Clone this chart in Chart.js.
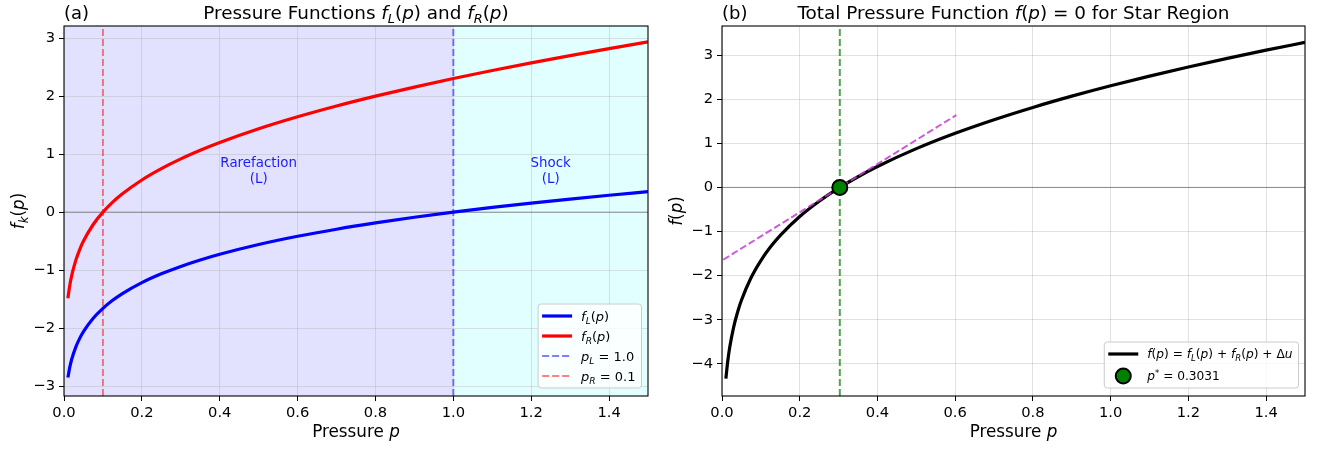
<!DOCTYPE html>
<html>
<head>
<meta charset="utf-8">
<script src="https://cdn.jsdelivr.net/npm/chart.js@4.4.0/dist/chart.umd.min.js"></script>
<style>
  html, body { margin: 0; padding: 0; background: #fff; }
  #wrap { position: relative; width: 1317px; height: 451px; }
  canvas { position: absolute; top: 0; }
</style>
</head>
<body>
<div id="wrap">
  <canvas id="left" width="660" height="451" style="left:0"></canvas>
  <canvas id="right" width="657" height="451" style="left:660px"></canvas>
</div>
<script>
// values
const pressure = [0.01, 0.015, 0.02, 0.03, 0.04, 0.05, 0.075, 0.1, 0.125, 0.15, 0.2, 0.25, 0.3, 0.35, 0.4, 0.5, 0.6, 0.7, 0.8, 0.9, 1.0, 1.1, 1.2, 1.3, 1.4, 1.5];
const fLeft  = [-2.852, -2.669, -2.533, -2.331, -2.181, -2.060, -1.830, -1.658, -1.520, -1.404, -1.215, -1.063, -0.935, -0.824, -0.726, -0.558, -0.416, -0.294, -0.186, -0.088, 0.0, 0.081, 0.156, 0.226, 0.292, 0.354];
const fRight = [-1.483, -1.256, -1.087, -0.836, -0.649, -0.499, -0.213, 0.0, 0.172, 0.316, 0.555, 0.750, 0.918, 1.066, 1.200, 1.437, 1.644, 1.830, 2.000, 2.157, 2.305, 2.443, 2.575, 2.700, 2.820, 2.935];
const fTotal = [-4.335, -3.925, -3.620, -3.167, -2.830, -2.559, -2.043, -1.658, -1.348, -1.088, -0.660, -0.313, -0.017, 0.242, 0.474, 0.879, 1.228, 1.536, 1.814, 2.069, 2.305, 2.524, 2.731, 2.926, 3.112, 3.289];
const pL = 1.0;
const pR = 0.1;
const pStar = 0.3031;
const tangentP = [0.0031, 0.6031];
const tangentF = [-1.64, 1.64];
const waveRegions = [[0, 1.0], [1.0, 1.5]];
const waveLabels = [['Rarefaction', '(L)'], ['Shock', '(L)']];
const xTicks = [0.0, 0.2, 0.4, 0.6, 0.8, 1.0, 1.2, 1.4];
const yTicksA = [-3, -2, -1, 0, 1, 2, 3];
const yTicksB = [-4, -3, -2, -1, 0, 1, 2, 3];

const FONT = '"DejaVu Sans", sans-serif';
const xy = (xs, ys) => xs.map((x, i) => ({ x: x, y: ys[i] }));

// tiny mathtext-ish renderer: n normal, i italic, s italic subscript, u superscript
function fontFor(st, size) {
  const small = st === 's' || st === 'u';
  const it = st === 'i' || st === 's';
  return (it ? 'italic ' : '') + (small ? size * 0.7 : size) + 'px ' + FONT;
}
function measureRich(ctx, parts, size) {
  let w = 0;
  for (const [t, st] of parts) { ctx.font = fontFor(st, size); w += ctx.measureText(t).width; }
  return w;
}
function drawRich(ctx, parts, x, y, size, align, color) {
  const w = measureRich(ctx, parts, size);
  let cx = align === 'center' ? x - w / 2 : align === 'right' ? x - w : x;
  ctx.textAlign = 'left';
  ctx.textBaseline = 'alphabetic';
  ctx.fillStyle = color || '#000';
  for (const [t, st] of parts) {
    ctx.font = fontFor(st, size);
    const dy = st === 's' ? size * 0.24 : st === 'u' ? -size * 0.38 : 0;
    ctx.fillText(t, cx, y + dy);
    cx += ctx.measureText(t).width;
  }
}

function drawLegend(ctx, a, items, rowH, size) {
  let tw = 0;
  items.forEach(it => { tw = Math.max(tw, measureRich(ctx, it.label, size)); });
  const w = 4 + 30 + 9 + tw + 6, h = (items.length - 1) * rowH + 24;
  const x0 = a.right - 6.5 - w, y0 = a.bottom - 8 - h;
  ctx.save();
  ctx.beginPath();
  ctx.roundRect(x0, y0, w, h, 3);
  ctx.fillStyle = 'rgba(255,255,255,0.8)';
  ctx.fill();
  ctx.strokeStyle = '#cccccc';
  ctx.lineWidth = 1;
  ctx.stroke();
  items.forEach((it, i) => {
    const cy = y0 + 12 + i * rowH;
    if (it.marker) {
      ctx.beginPath();
      ctx.arc(x0 + 19, cy, 7.5, 0, Math.PI * 2);
      ctx.fillStyle = it.color;
      ctx.fill();
      ctx.lineWidth = 2;
      ctx.strokeStyle = '#000';
      ctx.stroke();
    } else {
      ctx.beginPath();
      ctx.setLineDash(it.dash || []);
      ctx.moveTo(x0 + 4, cy);
      ctx.lineTo(x0 + 34, cy);
      ctx.strokeStyle = it.color;
      ctx.lineWidth = it.width;
      ctx.stroke();
      ctx.setLineDash([]);
    }
    drawRich(ctx, it.label, x0 + 43, cy + size * 0.36, size, 'left');
  });
  ctx.restore();
}

function decoPlugin(cfg) {
  return {
    id: 'deco',
    beforeDraw(chart) {
      if (!cfg.regions) return;
      const { ctx, chartArea: a, scales: { x } } = chart;
      ctx.save();
      cfg.regions.forEach((r, i) => {
        const x1 = x.getPixelForValue(r[0]), x2 = x.getPixelForValue(r[1]);
        ctx.fillStyle = cfg.regionColors[i];
        ctx.fillRect(x1, a.top, x2 - x1, a.bottom - a.top);
      });
      ctx.restore();
    },
    afterDraw(chart) {
      const { ctx, chartArea: a, scales: { x, y } } = chart;
      ctx.save();
      ctx.strokeStyle = '#000';
      ctx.lineWidth = 1.1;
      ctx.strokeRect(a.left, a.top, a.right - a.left, a.bottom - a.top);
      // annotations
      if (cfg.labels) {
        cfg.labels.forEach((lines, i) => {
          const cx = x.getPixelForValue(cfg.labelX[i]);
          const cy = y.getPixelForValue(cfg.labelY);
          ctx.font = '13.4px ' + FONT;
          ctx.fillStyle = '#1a1aff';
          ctx.textAlign = 'center';
          ctx.textBaseline = 'middle';
          ctx.fillText(lines[0], cx, cy - 8);
          ctx.fillText(lines[1], cx, cy + 8);
        });
      }
      // titles
      const mid = (a.left + a.right) / 2;
      ctx.font = '18px ' + FONT;
      ctx.fillStyle = '#000';
      ctx.textAlign = 'left';
      ctx.textBaseline = 'alphabetic';
      ctx.fillText(cfg.panel, a.left, 19);
      drawRich(ctx, cfg.title, mid, 19, 18.4, 'center');
      drawRich(ctx, [['Pressure ', 'n'], ['p', 'i']], mid, 437, 16.8, 'center');
      ctx.save();
      ctx.translate(cfg.ylabelX, (a.top + a.bottom) / 2);
      ctx.rotate(-Math.PI / 2);
      drawRich(ctx, cfg.ylabel, 0, 0, 16.8, 'center');
      ctx.restore();
      drawLegend(ctx, a, cfg.legend, cfg.rowH, cfg.legendSize);
      ctx.restore();
    }
  };
}

function scales(yMin, yMax, yTicks, yWidth) {
  const grid = { color: 'rgba(176,176,176,0.38)', tickColor: '#000', tickLength: 5, lineWidth: 1 };
  const tickFont = { family: FONT, size: 14.7 };
  return {
    x: {
      type: 'linear', min: 0, max: 1.5,
      afterBuildTicks: s => { s.ticks = xTicks.map(v => ({ value: v })); },
      afterFit: s => { s.height = 55; },
      grid: grid, border: { display: false },
      ticks: { color: '#000', font: tickFont, padding: 3, maxRotation: 0, callback: v => v.toFixed(1) }
    },
    y: {
      type: 'linear', min: yMin, max: yMax,
      afterBuildTicks: s => { s.ticks = yTicks.map(v => ({ value: v })); },
      afterFit: s => { s.width = yWidth; },
      grid: grid, border: { display: false },
      ticks: { color: '#000', font: tickFont, padding: 4, callback: v => (v < 0 ? '\u2212' + Math.abs(v) : String(v)) }
    }
  };
}

const common = {
  responsive: false,
  animation: false,
  events: [],
  devicePixelRatio: 1,
  plugins: { legend: { display: false }, tooltip: { enabled: false } }
};
const curve = (data, color, order) => ({ data: data, borderColor: color, borderWidth: 3.2, showLine: true, pointRadius: 0, cubicInterpolationMode: 'monotone', order: order });
const dashed = (data, color, order) => ({ data: data, borderColor: color, borderWidth: 2, borderDash: [7, 3], showLine: true, pointRadius: 0, order: order });
const zeroLine = { data: [{ x: 0, y: 0 }, { x: 1.5, y: 0 }], borderColor: 'rgba(0,0,0,0.4)', borderWidth: 1, showLine: true, pointRadius: 0, order: 9 };

// (a) left panel
const yA = [-3.17, 3.21];
new Chart(document.getElementById('left'), {
  type: 'scatter',
  data: {
    datasets: [
      zeroLine,
      curve(xy(pressure, fLeft), '#0000ff', 2),
      curve(xy(pressure, fRight), '#ff0000', 2),
      dashed([{ x: pL, y: yA[0] }, { x: pL, y: yA[1] }], 'rgba(0,0,255,0.5)', 3),
      dashed([{ x: pR, y: yA[0] }, { x: pR, y: yA[1] }], 'rgba(255,0,0,0.5)', 3)
    ]
  },
  options: Object.assign({}, common, {
    layout: { padding: { top: 26, right: 12, left: 0, bottom: 0 } },
    scales: scales(yA[0], yA[1], yTicksA, 64)
  }),
  plugins: [decoPlugin({
    panel: '(a)',
    title: [['Pressure Functions ', 'n'], ['f', 'i'], ['L', 's'], ['(', 'n'], ['p', 'i'], [') and ', 'n'], ['f', 'i'], ['R', 's'], ['(', 'n'], ['p', 'i'], [')', 'n']],
    ylabel: [['f', 'i'], ['k', 's'], ['(', 'n'], ['p', 'i'], [')', 'n']],
    ylabelX: 24,
    regions: waveRegions,
    regionColors: ['rgba(0,0,255,0.115)', 'rgba(0,255,255,0.115)'],
    labels: waveLabels,
    labelX: [0.5, 1.25],
    labelY: 0.7,
    rowH: 20,
    legendSize: 13,
    legend: [
      { color: '#0000ff', width: 3.2, label: [['f', 'i'], ['L', 's'], ['(', 'n'], ['p', 'i'], [')', 'n']] },
      { color: '#ff0000', width: 3.2, label: [['f', 'i'], ['R', 's'], ['(', 'n'], ['p', 'i'], [')', 'n']] },
      { color: 'rgba(0,0,255,0.5)', width: 2, dash: [7, 3], label: [['p', 'i'], ['L', 's'], [' = ' + pL.toFixed(1), 'n']] },
      { color: 'rgba(255,0,0,0.5)', width: 2, dash: [7, 3], label: [['p', 'i'], ['R', 's'], [' = ' + pR.toFixed(1), 'n']] }
    ]
  })]
});

// (b) right panel
const yB = [-4.73, 3.66];
new Chart(document.getElementById('right'), {
  type: 'scatter',
  data: {
    datasets: [
      zeroLine,
      curve(xy(pressure, fTotal), '#000000', 3),
      dashed(xy(tangentP, tangentF), 'rgba(200,60,210,0.85)', 2),
      dashed([{ x: pStar, y: yB[0] }, { x: pStar, y: yB[1] }], 'rgba(0,128,0,0.7)', 2),
      { data: [{ x: pStar, y: 0 }], pointRadius: 7.5, pointBackgroundColor: '#008000', pointBorderColor: '#000', pointBorderWidth: 2, order: 0 }
    ]
  },
  options: Object.assign({}, common, {
    layout: { padding: { top: 26, right: 12, left: 0, bottom: 0 } },
    scales: scales(yB[0], yB[1], yTicksB, 62)
  }),
  plugins: [decoPlugin({
    panel: '(b)',
    title: [['Total Pressure Function ', 'n'], ['f', 'i'], ['(', 'n'], ['p', 'i'], [') = 0 for Star Region', 'n']],
    ylabel: [['f', 'i'], ['(', 'n'], ['p', 'i'], [')', 'n']],
    ylabelX: 22,
    rowH: 22,
    legendSize: 12.2,
    legend: [
      { color: '#000', width: 3.2, label: [['f', 'i'], ['(', 'n'], ['p', 'i'], [') = ', 'n'], ['f', 'i'], ['L', 's'], ['(', 'n'], ['p', 'i'], [') + ', 'n'], ['f', 'i'], ['R', 's'], ['(', 'n'], ['p', 'i'], [') + \u0394', 'n'], ['u', 'i']] },
      { marker: true, color: '#008000', label: [['p', 'i'], ['*', 'u'], [' = ' + pStar.toFixed(4), 'n']] }
    ]
  })]
});
</script>
</body>
</html>
